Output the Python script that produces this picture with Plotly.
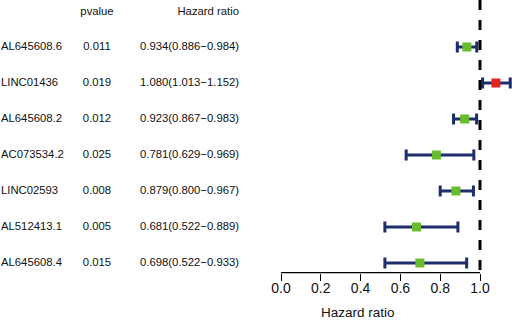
import plotly.graph_objects as go

genes = ["AL645608.6", "LINC01436", "AL645608.2", "AC073534.2", "LINC02593", "AL512413.1", "AL645608.4"]
pvalues = ["0.011", "0.019", "0.012", "0.025", "0.008", "0.005", "0.015"]
hr = [0.934, 1.080, 0.923, 0.781, 0.879, 0.681, 0.698]
hr_low = [0.886, 1.013, 0.867, 0.629, 0.800, 0.522, 0.522]
hr_high = [0.984, 1.152, 0.983, 0.969, 0.967, 0.889, 0.933]
hr_text = ["0.934(0.886\u22120.984)", "1.080(1.013\u22121.152)", "0.923(0.867\u22120.983)",
           "0.781(0.629\u22120.969)", "0.879(0.800\u22120.967)", "0.681(0.522\u22120.889)",
           "0.698(0.522\u22120.933)"]
tick_vals = [0.0, 0.2, 0.4, 0.6, 0.8, 1.0]
tick_text = ["0.0", "0.2", "0.4", "0.6", "0.8", "1.0"]

W, H = 512, 320
n = len(genes)
ypos = [n - i for i in range(n)]  # top row = n
header_y = n + 0.972

font = "Liberation Sans, Arial, sans-serif"
navy = "#1E2D6B"
colors = ["#E32420" if v > 1 else "#67BD2E" for v in hr]

ax_bottom_px = 272.7
dom_bottom = (H - ax_bottom_px) / H
x_left_px = 281.0
x_unit = 199.0
x_max = (W - x_left_px) / x_unit

fig = go.Figure()

# forest plot
fig.add_trace(go.Scatter(
    x=hr, y=ypos, mode="markers",
    marker=dict(symbol="square", size=9, color=colors, line=dict(width=0)),
    error_x=dict(type="data", symmetric=False,
                 array=[h - v for h, v in zip(hr_high, hr)],
                 arrayminus=[v - l for l, v in zip(hr_low, hr)],
                 color=navy, thickness=3, width=5.5),
    cliponaxis=False, showlegend=False, hoverinfo="skip",
))

# table text (xaxis2 in pixel units)
fig.add_trace(go.Scatter(
    x=[1] * n, y=ypos, mode="text", text=genes, textposition="middle right",
    textfont=dict(family=font, size=11.3, color="#111"), xaxis="x2", yaxis="y",
    showlegend=False, hoverinfo="skip", cliponaxis=False))
fig.add_trace(go.Scatter(
    x=[97] * (n + 1), y=[header_y] + ypos, mode="text", text=["pvalue"] + pvalues,
    textposition="middle center",
    textfont=dict(family=font, size=11.3, color="#111"), xaxis="x2", yaxis="y",
    showlegend=False, hoverinfo="skip", cliponaxis=False))
fig.add_trace(go.Scatter(
    x=[239] * (n + 1), y=[header_y] + ypos, mode="text", text=["Hazard ratio"] + hr_text,
    textposition="middle left",
    textfont=dict(family=font, size=11.3, color="#111"), xaxis="x2", yaxis="y",
    showlegend=False, hoverinfo="skip", cliponaxis=False))

y_min = 1 - (ax_bottom_px - 263) / 36.0
y_max = 1 + 263 / 36.0

fig.update_layout(
    width=W, height=H,
    margin=dict(l=0, r=0, t=0, b=0, autoexpand=False),
    paper_bgcolor="white", plot_bgcolor="white",
    font=dict(family=font, color="black"),
    hovermode=False,
    xaxis=dict(domain=[x_left_px / W, 1], range=[0, x_max], automargin=False,
               showgrid=False, zeroline=False, showline=False,
               tickmode="array", tickvals=tick_vals, ticktext=tick_text,
               ticks="outside", ticklen=7, tickwidth=1.3, tickcolor="black",
               ticklabelstandoff=-5,
               tickfont=dict(family=font, size=14, color="#111")),
    xaxis2=dict(domain=[0, x_left_px / W], range=[0, x_left_px], visible=False,
                anchor="y"),
    yaxis=dict(domain=[dom_bottom, 1], range=[y_min, y_max], visible=False, automargin=False),
)

# x axis line (only from 0 to 1) and reference line at HR = 1
fig.add_shape(type="line", xref="x", yref="paper", x0=0, x1=1, y0=dom_bottom, y1=dom_bottom,
              line=dict(color="black", width=1.3))
fig.add_shape(type="line", xref="x", yref="paper", x0=1, x1=1, y0=1, y1=dom_bottom,
              line=dict(color="black", width=3, dash="10px,10px"))

fig.add_annotation(text="Hazard ratio", xref="paper", yref="paper",
                   x=(x_left_px / W + 1) / 2, y=(H - 312) / H, yanchor="middle",
                   showarrow=False,
                   font=dict(family=font, size=13.5, color="#111"))

fig.write_html("out.html", config={"displayModeBar": False},
               post_script="document.body.style.margin='0';")
